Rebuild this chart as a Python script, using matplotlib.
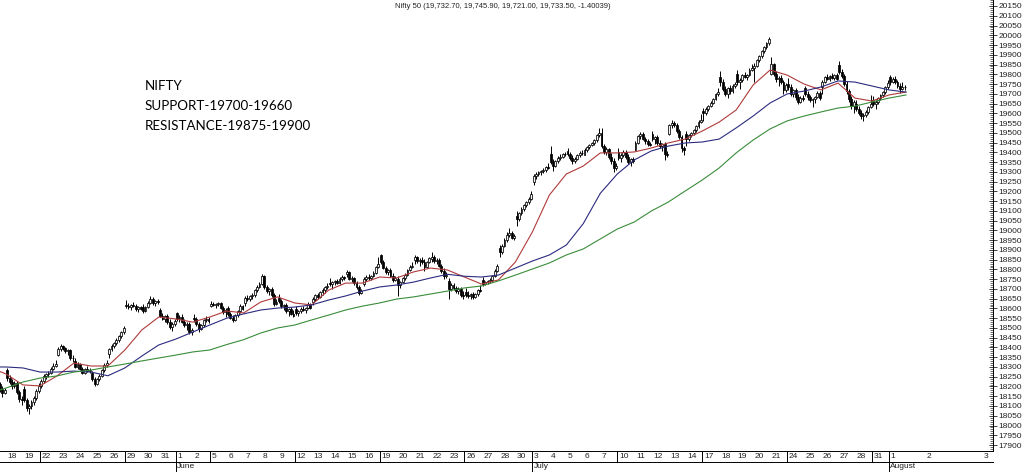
import numpy as np
import pandas as pd
import matplotlib
matplotlib.use('Agg')
import matplotlib.pyplot as plt
import matplotlib.transforms as mtransforms
from matplotlib.ticker import MultipleLocator, FormatStrFormatter

TITLE = 'Nifty 50 (19,732.70, 19,745.90, 19,721.00, 19,733.50, -1.40039)'
NOTE = ['NIFTY', 'SUPPORT-19700-19660', 'RESISTANCE-19875-19900']

# trading sessions, the first one is only partly visible at the left edge
dates = ['2023-05-17', '2023-05-18', '2023-05-19', '2023-05-22', '2023-05-23', '2023-05-24',
         '2023-05-25', '2023-05-26', '2023-05-29', '2023-05-30', '2023-05-31', '2023-06-01',
         '2023-06-02', '2023-06-05', '2023-06-06', '2023-06-07', '2023-06-08', '2023-06-09',
         '2023-06-12', '2023-06-13', '2023-06-14', '2023-06-15', '2023-06-16', '2023-06-19',
         '2023-06-20', '2023-06-21', '2023-06-22', '2023-06-23', '2023-06-26', '2023-06-27',
         '2023-06-28', '2023-06-30', '2023-07-03', '2023-07-04', '2023-07-05', '2023-07-06',
         '2023-07-07', '2023-07-10', '2023-07-11', '2023-07-12', '2023-07-13', '2023-07-14',
         '2023-07-17', '2023-07-18', '2023-07-19', '2023-07-20', '2023-07-21', '2023-07-24',
         '2023-07-25', '2023-07-26', '2023-07-27', '2023-07-28', '2023-07-31', '2023-08-01']
future_days = ['2', '3']

# hourly bars, 7 per session
opens = [
    [18300, 18270, 18240, 18225, 18215, 18185, 18165],
    [18287, 18245, 18225, 18200, 18220, 18170, 18135],
    [18187, 18130, 18090, 18100, 18120, 18140, 18175],
    [18201, 18230, 18255, 18262, 18270, 18292, 18305],
    [18363, 18390, 18405, 18395, 18380, 18385, 18345],
    [18330, 18300, 18315, 18292, 18270, 18290, 18280],
    [18269, 18240, 18215, 18238, 18255, 18282, 18310],
    [18369, 18390, 18410, 18425, 18440, 18458, 18478],
    [18619, 18610, 18605, 18620, 18612, 18595, 18605],
    [18606, 18585, 18605, 18630, 18650, 18628, 18640],
    [18594, 18562, 18548, 18560, 18530, 18505, 18522],
    [18579, 18545, 18558, 18532, 18515, 18520, 18478],
    [18551, 18545, 18520, 18495, 18515, 18540, 18548],
    [18613, 18625, 18618, 18622, 18628, 18600, 18580],
    [18600, 18570, 18552, 18540, 18565, 18585, 18610],
    [18630, 18655, 18648, 18662, 18670, 18692, 18712],
    [18725, 18765, 18710, 18690, 18700, 18668, 18625],
    [18656, 18640, 18610, 18618, 18585, 18595, 18572],
    [18596, 18575, 18585, 18598, 18590, 18600, 18625],
    [18631, 18650, 18668, 18660, 18685, 18695, 18708],
    [18732, 18725, 18735, 18740, 18730, 18752, 18760],
    [18774, 18785, 18750, 18758, 18728, 18710, 18680],
    [18727, 18752, 18762, 18758, 18768, 18782, 18812],
    [18873, 18840, 18808, 18785, 18795, 18768, 18745],
    [18752, 18720, 18735, 18755, 18772, 18795, 18812],
    [18849, 18865, 18845, 18850, 18838, 18810, 18840],
    [18853, 18865, 18845, 18850, 18820, 18790, 18765],
    [18742, 18700, 18720, 18705, 18690, 18700, 18670],
    [18682, 18670, 18665, 18675, 18660, 18672, 18695],
    [18748, 18725, 18735, 18740, 18745, 18765, 18790],
    [18908, 18890, 18922, 18950, 18975, 18985, 18962],
    [19076, 19060, 19088, 19110, 19128, 19145, 19162],
    [19246, 19280, 19290, 19298, 19305, 19310, 19325],
    [19390, 19350, 19330, 19355, 19372, 19378, 19392],
    [19405, 19390, 19372, 19355, 19368, 19385, 19395],
    [19385, 19412, 19425, 19440, 19448, 19462, 19488],
    [19500, 19430, 19400, 19415, 19375, 19355, 19320],
    [19400, 19372, 19388, 19402, 19375, 19352, 19365],
    [19414, 19450, 19482, 19495, 19470, 19460, 19445],
    [19495, 19470, 19480, 19450, 19435, 19445, 19390],
    [19496, 19538, 19550, 19540, 19510, 19480, 19420],
    [19494, 19470, 19488, 19500, 19512, 19535, 19555],
    [19612, 19600, 19622, 19638, 19655, 19675, 19698],
    [19787, 19760, 19725, 19700, 19728, 19712, 19742],
    [19802, 19760, 19770, 19795, 19785, 19795, 19822],
    [19831, 19845, 19872, 19893, 19918, 19938, 19960],
    [19800, 19855, 19800, 19775, 19780, 19760, 19720],
    [19749, 19735, 19700, 19718, 19685, 19660, 19680],
    [19730, 19700, 19685, 19668, 19672, 19685, 19705],
    [19733, 19762, 19785, 19778, 19790, 19782, 19795],
    [19850, 19812, 19790, 19750, 19712, 19675, 19640],
    [19646, 19620, 19600, 19585, 19592, 19605, 19632],
    [19666, 19650, 19660, 19678, 19692, 19708, 19735],
    [19785, 19762, 19778, 19758, 19740, 19725, 19732.7],
]
highs = [
    [18310, 18280, 18255, 18240, 18225, 18200, 18190],
    [18297, 18260, 18240, 18230, 18228, 18180, 18150],
    [18200, 18140, 18110, 18130, 18150, 18185, 18218],
    [18240, 18262, 18270, 18280, 18300, 18320, 18335],
    [18400, 18419, 18415, 18402, 18392, 18390, 18360],
    [18345, 18324, 18320, 18300, 18295, 18305, 18295],
    [18280, 18250, 18245, 18262, 18290, 18320, 18338],
    [18395, 18420, 18430, 18450, 18465, 18485, 18508],
    [18641, 18630, 18625, 18635, 18622, 18615, 18615],
    [18625, 18610, 18640, 18662, 18658, 18645, 18648],
    [18603, 18575, 18565, 18570, 18545, 18530, 18545],
    [18580, 18565, 18570, 18545, 18530, 18528, 18500],
    [18573, 18555, 18530, 18520, 18545, 18560, 18555],
    [18640, 18635, 18630, 18635, 18632, 18610, 18600],
    [18612, 18580, 18565, 18570, 18590, 18622, 18618],
    [18665, 18670, 18670, 18680, 18700, 18720, 18738],
    [18778, 18772, 18720, 18705, 18708, 18680, 18650],
    [18676, 18650, 18625, 18628, 18600, 18605, 18590],
    [18610, 18590, 18605, 18615, 18605, 18633, 18630],
    [18660, 18675, 18680, 18690, 18705, 18715, 18728],
    [18755, 18740, 18748, 18752, 18760, 18769, 18765],
    [18795, 18790, 18765, 18762, 18740, 18722, 18700],
    [18760, 18770, 18775, 18772, 18790, 18820, 18865],
    [18881, 18850, 18815, 18800, 18805, 18780, 18765],
    [18765, 18740, 18760, 18780, 18800, 18825, 18839],
    [18876, 18870, 18858, 18862, 18852, 18845, 18862],
    [18887, 18875, 18860, 18858, 18830, 18805, 18785],
    [18757, 18728, 18730, 18715, 18712, 18708, 18690],
    [18705, 18690, 18680, 18685, 18680, 18700, 18722],
    [18760, 18740, 18748, 18755, 18770, 18800, 18829],
    [18925, 18930, 18960, 18990, 19011, 18995, 18980],
    [19100, 19095, 19120, 19135, 19150, 19170, 19201],
    [19290, 19300, 19305, 19312, 19320, 19330, 19345],
    [19434, 19365, 19360, 19380, 19390, 19398, 19402],
    [19421, 19400, 19385, 19375, 19390, 19405, 19410],
    [19420, 19430, 19445, 19455, 19470, 19495, 19524],
    [19524, 19445, 19425, 19420, 19395, 19370, 19345],
    [19420, 19395, 19410, 19412, 19390, 19370, 19375],
    [19460, 19490, 19505, 19502, 19480, 19470, 19455],
    [19507, 19485, 19490, 19465, 19450, 19455, 19405],
    [19545, 19567, 19560, 19552, 19520, 19490, 19435],
    [19510, 19495, 19505, 19520, 19540, 19565, 19595],
    [19625, 19630, 19645, 19665, 19680, 19705, 19731],
    [19819, 19775, 19740, 19735, 19745, 19750, 19760],
    [19820, 19780, 19800, 19812, 19800, 19830, 19851],
    [19860, 19880, 19900, 19925, 19945, 19965, 19992],
    [19887, 19860, 19815, 19790, 19795, 19770, 19755],
    [19782, 19750, 19725, 19730, 19700, 19690, 19695],
    [19740, 19712, 19695, 19680, 19690, 19712, 19715],
    [19770, 19790, 19800, 19795, 19805, 19800, 19805],
    [19867, 19825, 19800, 19765, 19725, 19690, 19670],
    [19670, 19635, 19615, 19600, 19615, 19640, 19696],
    [19690, 19670, 19685, 19700, 19715, 19740, 19772],
    [19795, 19785, 19790, 19770, 19755, 19760, 19745.9],
]
lows = [
    [18260, 18230, 18215, 18200, 18170, 18146, 18160],
    [18230, 18215, 18185, 18190, 18160, 18120, 18104],
    [18120, 18075, 18061, 18085, 18105, 18130, 18165],
    [18194, 18220, 18240, 18250, 18262, 18285, 18298],
    [18355, 18380, 18385, 18370, 18360, 18335, 18324],
    [18295, 18290, 18285, 18262, 18265, 18275, 18270],
    [18230, 18202, 18208, 18230, 18250, 18275, 18300],
    [18347, 18380, 18398, 18415, 18430, 18450, 18470],
    [18600, 18595, 18590, 18605, 18585, 18581, 18590],
    [18575, 18580, 18600, 18625, 18620, 18615, 18625],
    [18555, 18540, 18530, 18520, 18495, 18483, 18510],
    [18535, 18530, 18525, 18505, 18490, 18470, 18464],
    [18530, 18510, 18478, 18488, 18505, 18530, 18525],
    [18605, 18610, 18600, 18612, 18595, 18570, 18557],
    [18560, 18545, 18531, 18535, 18555, 18578, 18590],
    [18615, 18640, 18640, 18650, 18660, 18685, 18705],
    [18720, 18700, 18680, 18670, 18660, 18615, 18618],
    [18630, 18600, 18590, 18575, 18560, 18565, 18555],
    [18565, 18559, 18575, 18585, 18575, 18595, 18595],
    [18616, 18640, 18650, 18655, 18670, 18680, 18700],
    [18715, 18700, 18720, 18725, 18725, 18740, 18745],
    [18760, 18745, 18735, 18720, 18700, 18669, 18672],
    [18713, 18740, 18748, 18745, 18760, 18778, 18805],
    [18830, 18800, 18775, 18770, 18760, 18735, 18740],
    [18665, 18704, 18728, 18748, 18765, 18790, 18805],
    [18830, 18835, 18820, 18830, 18794, 18805, 18835],
    [18840, 18835, 18830, 18810, 18780, 18751, 18755],
    [18650, 18690, 18695, 18680, 18675, 18660, 18647],
    [18660, 18655, 18650, 18646, 18652, 18665, 18685],
    [18715, 18718, 18725, 18730, 18738, 18760, 18785],
    [18862, 18880, 18915, 18940, 18965, 18955, 18950],
    [19025, 19050, 19080, 19100, 19120, 19135, 19155],
    [19235, 19265, 19280, 19285, 19292, 19300, 19315],
    [19340, 19302, 19325, 19345, 19360, 19370, 19380],
    [19380, 19360, 19339, 19345, 19360, 19378, 19385],
    [19385, 19400, 19415, 19430, 19440, 19455, 19480],
    [19420, 19390, 19385, 19365, 19340, 19299, 19310],
    [19360, 19350, 19378, 19365, 19340, 19330, 19345],
    [19410, 19445, 19470, 19465, 19445, 19435, 19430],
    [19460, 19445, 19440, 19420, 19405, 19362, 19375],
    [19490, 19525, 19530, 19500, 19470, 19400, 19385],
    [19433, 19460, 19478, 19490, 19505, 19525, 19548],
    [19562, 19590, 19612, 19630, 19648, 19668, 19690],
    [19740, 19715, 19690, 19680, 19700, 19705, 19730],
    [19745, 19727, 19760, 19780, 19770, 19790, 19815],
    [19758, 19838, 19862, 19885, 19910, 19930, 19952],
    [19795, 19790, 19760, 19740, 19750, 19700, 19710],
    [19720, 19690, 19685, 19670, 19650, 19652, 19664],
    [19690, 19670, 19660, 19630, 19655, 19678, 19670],
    [19698, 19755, 19770, 19765, 19775, 19770, 19770],
    [19800, 19780, 19740, 19700, 19660, 19620, 19603],
    [19610, 19590, 19570, 19563, 19580, 19598, 19625],
    [19640, 19620, 19650, 19670, 19685, 19700, 19725],
    [19745, 19755, 19750, 19730, 19704, 19720, 19721],
]
closes = [
    [18270, 18240, 18225, 18215, 18185, 18165, 18182],
    [18245, 18225, 18200, 18220, 18170, 18135, 18129],
    [18130, 18090, 18100, 18120, 18140, 18175, 18203],
    [18230, 18255, 18262, 18270, 18292, 18305, 18314],
    [18390, 18405, 18395, 18380, 18385, 18345, 18348],
    [18300, 18315, 18292, 18270, 18290, 18280, 18285],
    [18240, 18215, 18238, 18255, 18282, 18310, 18321],
    [18390, 18410, 18425, 18440, 18458, 18478, 18499],
    [18610, 18605, 18620, 18612, 18595, 18605, 18599],
    [18585, 18605, 18630, 18650, 18628, 18640, 18633],
    [18562, 18548, 18560, 18530, 18505, 18522, 18534],
    [18545, 18558, 18532, 18515, 18520, 18478, 18488],
    [18545, 18520, 18495, 18515, 18540, 18548, 18534],
    [18625, 18618, 18622, 18628, 18600, 18580, 18594],
    [18570, 18552, 18540, 18565, 18585, 18610, 18599],
    [18655, 18648, 18662, 18670, 18692, 18712, 18726],
    [18765, 18710, 18690, 18700, 18668, 18625, 18635],
    [18640, 18610, 18618, 18585, 18595, 18572, 18563],
    [18575, 18585, 18598, 18590, 18600, 18625, 18602],
    [18650, 18668, 18660, 18685, 18695, 18708, 18716],
    [18725, 18735, 18740, 18730, 18752, 18760, 18756],
    [18785, 18750, 18758, 18728, 18710, 18680, 18688],
    [18752, 18762, 18758, 18768, 18782, 18812, 18826],
    [18840, 18808, 18785, 18795, 18768, 18745, 18756],
    [18720, 18735, 18755, 18772, 18795, 18812, 18817],
    [18865, 18845, 18850, 18838, 18810, 18840, 18857],
    [18865, 18845, 18850, 18820, 18790, 18765, 18771],
    [18700, 18720, 18705, 18690, 18700, 18670, 18665],
    [18670, 18665, 18675, 18660, 18672, 18695, 18691],
    [18725, 18735, 18740, 18745, 18765, 18790, 18817],
    [18890, 18922, 18950, 18975, 18985, 18962, 18972],
    [19060, 19088, 19110, 19128, 19145, 19162, 19189],
    [19280, 19290, 19298, 19305, 19310, 19325, 19322],
    [19350, 19330, 19355, 19372, 19378, 19392, 19389],
    [19390, 19372, 19355, 19368, 19385, 19395, 19398],
    [19412, 19425, 19440, 19448, 19462, 19488, 19497],
    [19430, 19400, 19415, 19375, 19355, 19320, 19332],
    [19372, 19388, 19402, 19375, 19352, 19365, 19356],
    [19450, 19482, 19495, 19470, 19460, 19445, 19440],
    [19470, 19480, 19450, 19435, 19445, 19390, 19384],
    [19538, 19550, 19540, 19510, 19480, 19420, 19413],
    [19470, 19488, 19500, 19512, 19535, 19555, 19565],
    [19600, 19622, 19638, 19655, 19675, 19698, 19711],
    [19760, 19725, 19700, 19728, 19712, 19742, 19750],
    [19760, 19770, 19795, 19785, 19795, 19822, 19833],
    [19845, 19872, 19893, 19918, 19938, 19960, 19979],
    [19855, 19800, 19775, 19780, 19760, 19720, 19745],
    [19735, 19700, 19718, 19685, 19660, 19680, 19672],
    [19700, 19685, 19668, 19672, 19685, 19705, 19680],
    [19762, 19785, 19778, 19790, 19782, 19795, 19778],
    [19812, 19790, 19750, 19712, 19675, 19640, 19660],
    [19620, 19600, 19585, 19592, 19605, 19632, 19646],
    [19650, 19660, 19678, 19692, 19708, 19735, 19754],
    [19762, 19778, 19758, 19740, 19725, 19732.7, 19733.5],
]

# moving averages read at the start of each session (17 May ... 1 Aug, plus the end)
ma_red = [18300, 18264, 18208, 18203, 18254, 18320, 18305, 18305, 18387, 18490, 18556,
          18546, 18530, 18556, 18587, 18577, 18633, 18659, 18628, 18618, 18694, 18730,
          18730, 18761, 18756, 18787, 18807, 18797, 18761, 18725, 18746, 18838, 18992,
          19181, 19289, 19330, 19397, 19397, 19402, 19422, 19448, 19468, 19509, 19555,
          19617, 19745, 19822, 19796, 19750, 19720, 19755, 19678, 19663, 19694, 19709]
ma_blue = [18300, 18300, 18295, 18274, 18274, 18279, 18274, 18255, 18295, 18356, 18413,
           18443, 18479, 18515, 18550, 18572, 18592, 18602, 18607, 18618, 18643, 18664,
           18689, 18710, 18720, 18735, 18756, 18775, 18765, 18761, 18771, 18807, 18843,
           18874, 18925, 19035, 19190, 19289, 19361, 19407, 19432, 19448, 19453, 19468,
           19525, 19586, 19653, 19699, 19714, 19735, 19766, 19760, 19740, 19720, 19709]
ma_green = [18165, 18192, 18223, 18243, 18254, 18274, 18284, 18300, 18315, 18331, 18346,
            18361, 18377, 18387, 18415, 18440, 18474, 18500, 18515, 18541, 18566, 18592,
            18612, 18628, 18648, 18659, 18674, 18689, 18705, 18715, 18741, 18771, 18802,
            18833, 18874, 18905, 18956, 19007, 19043, 19099, 19145, 19202, 19258, 19320,
            19397, 19463, 19520, 19561, 19586, 19607, 19627, 19637, 19658, 19678, 19694]

W, H = 1024, 472
AX_H = 451  # axes height in pixels, the date strip sits below it
TXT = '#222222'


def draw_candles(ax):
    o = np.array(opens, dtype=float)
    h = np.array(highs, dtype=float)
    l = np.array(lows, dtype=float)
    c = np.array(closes, dtype=float)
    n_day, n_bar = o.shape
    x = np.arange(n_day)[:, None] - 1 + (np.arange(n_bar)[None, :] + 0.5) / n_bar
    x, o, h, l, c = x.ravel(), o.ravel(), h.ravel(), l.ravel(), c.ravel()
    up = c >= o
    ax.vlines(x, l, h, color='black', linewidth=0.7, zorder=2)
    body = np.maximum(np.abs(c - o), 2)
    ax.bar(x, body, bottom=np.minimum(o, c), width=0.11,
           color=np.where(up, '#f4f4f4', 'black'), edgecolor='black',
           linewidth=0.55, zorder=3)


def draw_date_strip(ax):
    """Date labels in a boxed strip under the chart"""
    trans = mtransforms.blended_transform_factory(ax.transData, ax.transAxes)
    below = lambda px: -px / AX_H
    x0, x1 = ax.get_xlim()
    ax.plot([x0, x1], [below(11), below(11)], transform=trans, color='black',
            linewidth=0.7, clip_on=False)
    dts = pd.to_datetime(dates)
    for i, dt in enumerate(dts):
        d = i - 1
        if d < 0:
            continue
        prev = dts[i - 1]
        if dt.month != prev.month:
            ax.plot([d, d], [0, below(21)], transform=trans, color='black',
                    linewidth=0.7, clip_on=False)
            ax.text(d + 0.08, below(16), dt.strftime('%B'), transform=trans,
                    fontsize=6, va='center', ha='left', color=TXT)
        elif dt.weekday() < prev.weekday():
            ax.plot([d, d], [0, below(11)], transform=trans, color='black',
                    linewidth=0.7, clip_on=False)
        ax.text(d + 0.1, below(5.5), str(dt.day), transform=trans, fontsize=6,
                va='center', ha='left', color=TXT)
    for pos, lab in zip([54.2, 57.6], future_days):
        ax.text(pos, below(5.5), lab, transform=trans, fontsize=6,
                va='center', ha='left', color=TXT)


def main():
    plt.rcParams['font.family'] = ['Liberation Sans', 'DejaVu Sans']
    fig = plt.figure(figsize=(W / 100, H / 100), dpi=100)
    ax = fig.add_axes([0, (H - AX_H) / H, 993 / W, AX_H / H])

    draw_candles(ax)
    xs = np.arange(len(ma_red)) - 1
    ax.plot(xs, ma_red, color='#b03a3a', linewidth=0.8, zorder=4)
    ax.plot(xs, ma_blue, color='#2b2b80', linewidth=0.8, zorder=4)
    ax.plot(xs, ma_green, color='#3a8c3a', linewidth=0.8, zorder=4)

    ax.set_xlim(-6 / 16.98, 987 / 16.98)
    ax.set_ylim(20150 - 445 * 5.125, 20150 + 6 * 5.125)

    for side in ['top', 'left']:
        ax.spines[side].set_visible(False)
    ax.spines['right'].set_linewidth(0.7)
    ax.spines['bottom'].set_linewidth(0.7)
    ax.set_xticks([])
    ax.yaxis.tick_right()
    ax.yaxis.set_major_locator(MultipleLocator(50))
    ax.yaxis.set_minor_locator(MultipleLocator(10))
    ax.yaxis.set_major_formatter(FormatStrFormatter('%d'))
    ax.tick_params(axis='y', which='major', direction='inout', length=6, width=0.6,
                   labelsize=6, pad=1, colors=TXT)
    ax.tick_params(axis='y', which='minor', direction='in', length=2, width=0.4)

    draw_date_strip(ax)

    fig.text(503 / W, 1 - 7 / H, TITLE, fontsize=5.5, ha='center', va='center',
             color=TXT)
    for k, line in enumerate(NOTE):
        fig.text(145 / W, 1 - (86 + 20 * k) / H, line, fontsize=9.6,
                 family=['Lato', 'DejaVu Sans'], ha='left', va='center')

    fig.savefig('out.png', dpi=100)
    plt.close(fig)


if __name__ == '__main__':
    main()
